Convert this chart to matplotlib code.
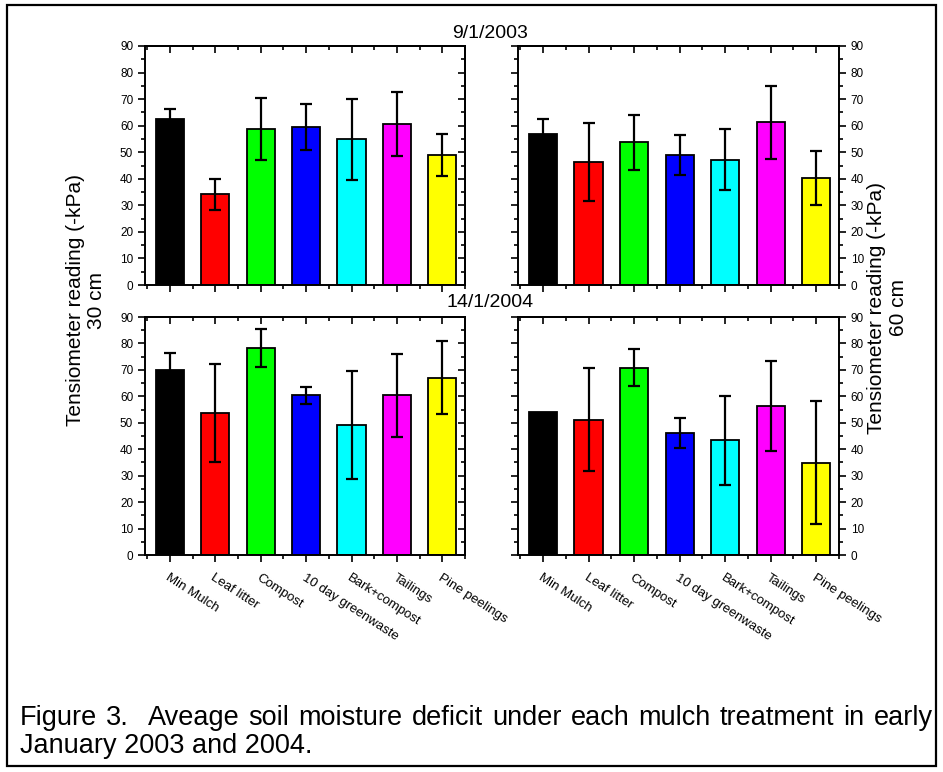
import numpy as np
import matplotlib
matplotlib.use("Agg")
import matplotlib.pyplot as plt
from matplotlib.patches import Rectangle

plt.rcParams['font.family'] = ['Liberation Sans', 'DejaVu Sans']

treatments = ["Min Mulch", "Leaf litter", "Compost", "10 day greenwaste",
              "Bark+compost", "Tailings", "Pine peelings"]
bar_colors = ["#000000", "#ff0000", "#00ff00", "#0000ff", "#00ffff", "#ff00ff", "#ffff00"]

# 9/1/2003
mean_2003_30 = [62.4, 34.1, 58.8, 59.5, 54.8, 60.5, 49.0]
err_2003_30 = [3.7, 5.7, 11.8, 8.5, 15.1, 12.0, 8.0]
mean_2003_60 = [56.7, 46.3, 53.7, 49.1, 47.2, 61.3, 40.4]
err_2003_60 = [5.7, 14.7, 10.5, 7.5, 11.4, 13.7, 10.2]

# 14/1/2004
mean_2004_30 = [70.1, 53.8, 78.4, 60.4, 49.0, 60.4, 67.1]
err_2004_30 = [6.4, 18.5, 7.2, 3.3, 20.4, 15.7, 13.8]
mean_2004_60 = [53.9, 51.1, 70.9, 46.2, 43.3, 56.5, 34.9]
err_2004_60 = [0.0, 19.5, 7.1, 5.6, 17.0, 17.0, 23.2]

caption_1 = "Figure 3.  Aveage soil moisture deficit under each mulch treatment in early"
caption_2 = "January 2003 and 2004."

W, H = 943, 772
fig = plt.figure(figsize=(W / 100, H / 100), dpi=100)


def px_axes(x0, y0, x1, y1):
    return fig.add_axes([x0 / W, 1 - y1 / H, (x1 - x0) / W, (y1 - y0) / H])


def draw_panel(ax, means, errs, left_side, show_xlabels):
    x = np.arange(1, len(treatments) + 1)
    ax.bar(x, means, width=0.62, color=bar_colors, edgecolor="black", linewidth=1.3, zorder=2)
    # skip bars with no error bar
    has_err = np.array(errs) > 0
    ax.errorbar(x[has_err], np.array(means)[has_err], yerr=np.array(errs)[has_err],
                fmt="none", ecolor="black", elinewidth=1.6, capsize=4, capthick=1.6, zorder=3)
    ax.set_xlim(0.45, 7.5)
    ax.set_ylim(0, 90)
    ax.set_yticks(np.arange(0, 91, 10))
    ax.set_yticks(np.arange(0, 91, 5), minor=True)
    ax.set_xticks(x)
    ax.set_xticks(np.arange(0.5, 7.6, 1), minor=True)
    for s in ax.spines.values():
        s.set_linewidth(1.4)

    # bottom ticks out, top ticks in
    ax.tick_params(axis="x", which="both", direction="out", top=False, bottom=True, width=1.2)
    ax.tick_params(axis="x", which="major", length=5)
    ax.tick_params(axis="x", which="minor", length=3)
    top = ax.secondary_xaxis("top")
    top.set_xticks(x)
    top.set_xticks(np.arange(0.5, 7.6, 1), minor=True)
    top.tick_params(which="both", direction="in", labeltop=False, width=1.2)
    top.tick_params(which="major", length=5)
    top.tick_params(which="minor", length=3)
    top.spines["top"].set_linewidth(1.4)

    if show_xlabels:
        ax.set_xticklabels(treatments, rotation=-33, ha="left", va="top",
                           rotation_mode="anchor", fontsize=9.5)
        ax.tick_params(axis="x", which="major", pad=7)
    else:
        ax.set_xticklabels([])

    if left_side:
        ax.tick_params(axis="y", which="both", direction="out", left=True, right=False,
                       labelleft=True, labelsize=8.5, width=1.2)
        sec = ax.secondary_yaxis("right")
        sec.tick_params(which="both", direction="in", labelright=False, width=1.2)
    else:
        ax.tick_params(axis="y", which="both", direction="out", left=True, right=True,
                       labelleft=False, labelright=True, labelsize=8.5, width=1.2)
        sec = None
    ax.tick_params(axis="y", which="major", length=5)
    ax.tick_params(axis="y", which="minor", length=3)
    if sec is not None:
        sec.set_yticks(np.arange(0, 91, 10))
        sec.set_yticks(np.arange(0, 91, 5), minor=True)
        sec.tick_params(which="major", length=5)
        sec.tick_params(which="minor", length=3)
        sec.spines["right"].set_linewidth(1.4)


ax_tl = px_axes(145, 46, 465, 285)
ax_tr = px_axes(518, 46, 839, 285)
ax_bl = px_axes(145, 317, 465, 555)
ax_br = px_axes(518, 317, 839, 555)

draw_panel(ax_tl, mean_2003_30, err_2003_30, True, False)
draw_panel(ax_tr, mean_2003_60, err_2003_60, False, False)
draw_panel(ax_bl, mean_2004_30, err_2004_30, True, True)
draw_panel(ax_br, mean_2004_60, err_2004_60, False, True)

fig.text(490 / W, 1 - 33 / H, "9/1/2003", ha="center", va="center", fontsize=14)
fig.text(490 / W, 1 - 302 / H, "14/1/2004", ha="center", va="center", fontsize=14)

fig.text(86 / W, 1 - 300 / H, "Tensiometer reading (-kPa)\n30 cm", rotation=90,
         ha="center", va="center", fontsize=15, multialignment="center", linespacing=1.1)
fig.text(888 / W, 1 - 308 / H, "Tensiometer reading (-kPa)\n60 cm", rotation=90,
         ha="center", va="center", fontsize=15, multialignment="center", linespacing=1.2)

# caption: first line justified between x=20 and x=933 px (double space after "3.")
cap_size = 19.5
renderer = fig.canvas.get_renderer()
words = caption_1.split(" ")
word_texts = [fig.text(0, 1 - 718 / H, w, ha="left", va="center", fontsize=cap_size) for w in words]
widths = [t.get_window_extent(renderer).width for t in word_texts]
gap = (933 - 20 - sum(widths)) / (len(words) - 1)
xpos = 20.0
for t, w in zip(word_texts, widths):
    t.set_x(xpos / W)
    xpos += w + gap
fig.text(20 / W, 1 - 746 / H, caption_2, ha="left", va="center", fontsize=cap_size)

fig.add_artist(Rectangle((7 / W, 1 - 766 / H), (936 - 7) / W, (766 - 5) / H,
                         transform=fig.transFigure, fill=False, edgecolor="black", linewidth=1.6))

fig.savefig("out.png", dpi=100)
